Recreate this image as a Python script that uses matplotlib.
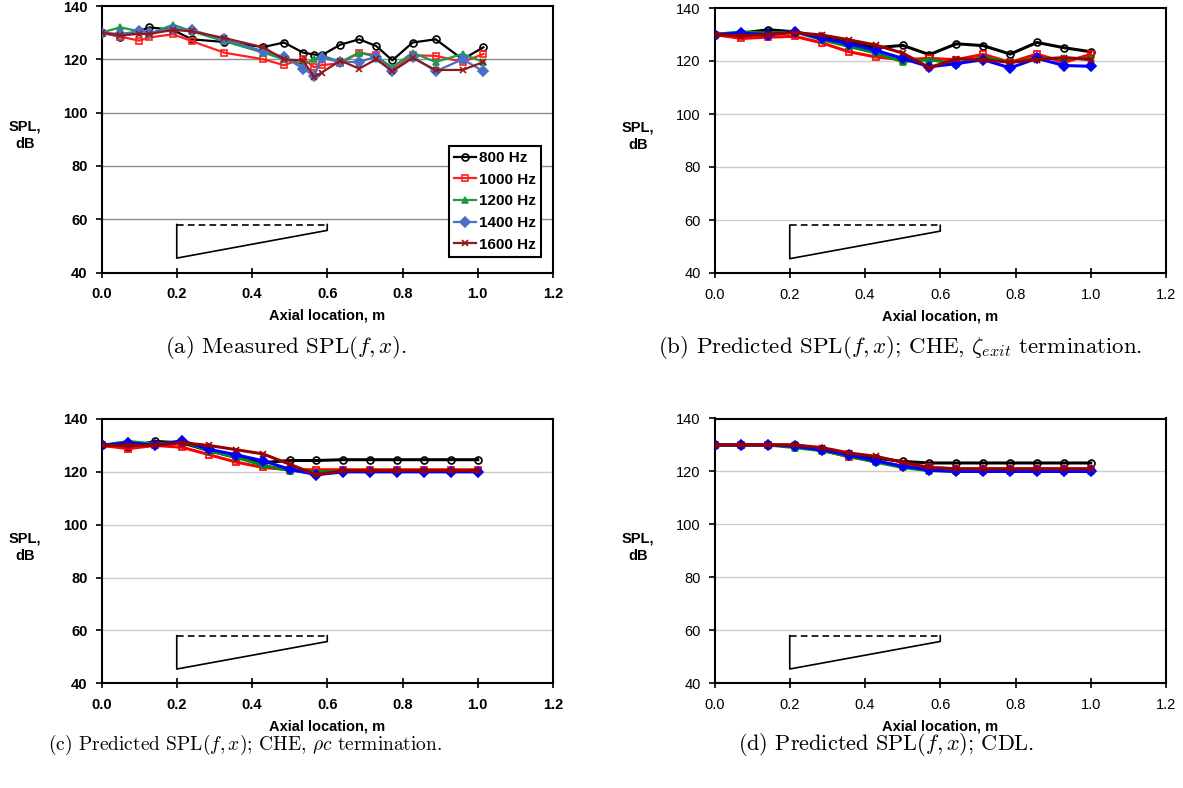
import matplotlib.pyplot as plt

plt.rcParams['font.family'] = ['Liberation Sans', 'DejaVu Sans']
plt.rcParams['mathtext.fontset'] = 'cm'

freq_labels = ['800 Hz', '1000 Hz', '1200 Hz', '1400 Hz', '1600 Hz']

# measured microphone positions along the duct, m
x_meas = [0.0, 0.05, 0.10, 0.127, 0.19, 0.24, 0.326, 0.43, 0.485, 0.536,
          0.565, 0.585, 0.635, 0.685, 0.73, 0.773, 0.827, 0.888, 0.96, 1.015]
meas_800 = [130, 128.5, 130.5, 132, 131, 127.5, 126.5, 124.6, 126.3, 122.5,
            121.8, 121.5, 125.5, 127.5, 125, 119.6, 126.3, 127.5, 120, 124.5]
meas_1000 = [130, 128.5, 127, 128.2, 129.4, 126.8, 122.5, 120, 117.8, 120.3,
             117, 117.8, 118.5, 122.5, 121.5, 116, 121.5, 121.3, 119, 122]
meas_1200 = [130, 132, 130.5, 129.5, 133, 130.5, 126.8, 122.5, 120, 118,
             120, 121.5, 119, 122.5, 121, 117, 122.5, 119, 122, 119]
meas_1400 = [130, 129.5, 130.5, 130, 131.5, 131, 127.5, 123, 121, 116.5,
             113.8, 120.5, 119, 119, 121, 115.5, 121, 115.5, 120, 115.5]
meas_1600 = [130, 129, 129.5, 129.5, 131, 130.5, 128, 124.5, 120, 119.5,
             113.5, 115, 119.5, 116.5, 120, 115.5, 120.5, 116, 116, 119]

# prediction nodes, m
x_pred = [0.0, 0.071, 0.143, 0.214, 0.286, 0.357, 0.429, 0.5,
          0.571, 0.643, 0.714, 0.786, 0.857, 0.929, 1.0]

# CHE, zeta_exit termination
che_zeta_800 = [130, 130.5, 131.8, 131, 129, 127, 125, 125.9, 122.4, 126.5, 125.8, 122.6, 127, 125, 123.5]
che_zeta_1000 = [130, 128.5, 129, 129.3, 126.8, 123.5, 121.5, 120.5, 121, 120.5, 122.5, 119.5, 122.6, 119.5, 122.5]
che_zeta_1200 = [130, 131, 130.5, 131, 128, 125.5, 123, 119.8, 120.5, 119, 121.5, 119.5, 121, 121, 121]
che_zeta_1400 = [130, 130.5, 130, 131, 128.5, 126.5, 124, 121, 117.8, 119, 120.5, 117.4, 121, 118.3, 118]
che_zeta_1600 = [130, 129.5, 130, 130.7, 129.8, 128, 126, 123, 117.5, 120.8, 120.5, 119.5, 120.5, 121.3, 120.5]

# CHE, rho*c termination
che_rhoc_800 = [130, 129.5, 131.5, 131, 128, 125.5, 123.5, 124.3, 124.3, 124.6, 124.6, 124.6, 124.6, 124.6, 124.6]
che_rhoc_1000 = [130, 128.8, 130, 129.3, 126.5, 123.7, 121.7, 120.8, 120.8, 120.8, 120.8, 120.8, 120.8, 120.8, 120.8]
che_rhoc_1200 = [130, 131.5, 130.5, 131.5, 128, 125.5, 122.5, 120.5, 120, 120.3, 120.3, 120.3, 120.3, 120.3, 120.3]
che_rhoc_1400 = [130, 131, 130, 131.8, 128.5, 126.5, 124.2, 121, 118.9, 120, 120, 120, 120, 120, 120]
che_rhoc_1600 = [130, 130, 130, 131, 130, 128.4, 126.8, 122.9, 118.9, 120.5, 120.5, 120.5, 120.5, 120.5, 120.5]

# CDL
cdl_800 = [130, 130, 130, 130, 128.5, 126.5, 125, 123.8, 123.2, 123.2, 123.2, 123.2, 123.2, 123.2, 123.2]
cdl_1000 = [130, 130, 130, 129.8, 128, 125.5, 123.8, 122, 121.5, 121, 121, 121, 121, 121, 121]
cdl_1200 = [130, 130, 130, 129, 127.8, 125.8, 123.5, 121.5, 120.3, 120, 120, 120, 120, 120, 120]
cdl_1400 = [130, 130, 130, 129.5, 128.2, 126.2, 124, 122, 120.5, 120, 120, 120, 120, 120, 120]
cdl_1600 = [130, 130, 130, 130, 129, 127, 125.7, 123.5, 121.5, 121, 121, 121, 121, 121, 121]

# duct outline sketch (x in m, y in plot units)
duct_x = [0.2, 0.2, 0.6, 0.6]
duct_y = [58, 45.4, 55.8, 58]

markers = ['o', 's', '^', 'D', 'x']
colors_meas = ['black', '#ff2020', '#1f9a45', '#4a6fc8', '#8e1a1a']
colors_pred = ['black', '#ff0000', '#008a20', '#0000ff', '#990000']

captions = [r'(a) Measured SPL$(f, x)$.',
            r'(b) Predicted SPL$(f, x)$; CHE, $\zeta_{exit}$ termination.',
            r'(c) Predicted SPL$(f, x)$; CHE, $\rho c$ termination.',
            r'(d) Predicted SPL$(f, x)$; CDL.']

W, H = 1183, 788
fig = plt.figure(figsize=(W / 100, H / 100), dpi=100)


def make_axes(left, top, right, bottom):
    return fig.add_axes([left / W, 1 - bottom / H, (right - left) / W, (bottom - top) / H])


def draw_panel(ax, x, series, colors, lw, grid_color, bold_ticks):
    for y, c, m, lab in zip(series, colors, markers, freq_labels):
        face = c if m in ('^', 'D') else 'none'
        ax.plot(x, y, color=c, lw=lw, marker=m, ms=5, mfc=face, mec=c,
                mew=1.2, label=lab, zorder=3)
    ax.plot(duct_x, duct_y, color='black', lw=1.2)
    ax.plot([duct_x[0], duct_x[-1]], [duct_y[0], duct_y[-1]],
            color='black', lw=1.2, ls=(0, (4, 2.5)))
    ax.set_xlim(0, 1.2)
    ax.set_ylim(40, 140)
    ax.set_xticks([0.0, 0.2, 0.4, 0.6, 0.8, 1.0, 1.2])
    ax.set_xticklabels(['0.0', '0.2', '0.4', '0.6', '0.8', '1.0', '1.2'])
    ax.set_yticks([40, 60, 80, 100, 120, 140])
    for v in [60, 80, 100, 120]:
        ax.axhline(v, color=grid_color, lw=1.0, zorder=1)
    for s in ax.spines.values():
        s.set_linewidth(1.5)
    weight = 'bold' if bold_ticks else 'normal'
    ax.tick_params(axis='y', direction='out', length=4, width=1.2, pad=6,
                   labelsize=10.5)
    ax.tick_params(axis='x', direction='inout', length=7, width=1.2, pad=7,
                   labelsize=10.5)
    for t in ax.get_xticklabels() + ax.get_yticklabels():
        t.set_fontweight(weight)
    ax.text(-0.17, 0.515, 'SPL,\ndB', transform=ax.transAxes, ha='center',
            va='center', multialignment='center', fontsize=10.5,
            fontweight='bold', linespacing=1.3)
    ax.text(0.5, -0.163, 'Axial location, m', transform=ax.transAxes,
            ha='center', va='center', fontsize=10.5, fontweight='bold')


ax_a = make_axes(101.5, 6, 553, 272.5)
ax_b = make_axes(714.5, 8, 1166, 273)
ax_c = make_axes(101.5, 419, 553, 683.3)
ax_d = make_axes(714.5, 418.5, 1166, 683.3)

draw_panel(ax_a, x_meas, [meas_800, meas_1000, meas_1200, meas_1400, meas_1600],
           colors_meas, 1.6, '#8c8c8c', True)
draw_panel(ax_b, x_pred, [che_zeta_800, che_zeta_1000, che_zeta_1200, che_zeta_1400, che_zeta_1600],
           colors_pred, 2.2, '#cccccc', False)
draw_panel(ax_c, x_pred, [che_rhoc_800, che_rhoc_1000, che_rhoc_1200, che_rhoc_1400, che_rhoc_1600],
           colors_pred, 2.2, '#cccccc', True)
draw_panel(ax_d, x_pred, [cdl_800, cdl_1000, cdl_1200, cdl_1400, cdl_1600],
           colors_pred, 2.2, '#cccccc', False)

leg = ax_a.legend(loc='lower right', bbox_to_anchor=(0.99, 0.03), fancybox=False,
                  framealpha=1, edgecolor='black', handlelength=1.4,
                  handletextpad=0.2, borderpad=0.35, labelspacing=0.5,
                  prop={'weight': 'bold', 'size': 11})
leg.get_frame().set_linewidth(1.5)

# caption anchors: (x, y, horizontal alignment, size)
cap_pos = [(286, 347, 'center', 16.5), (900, 347, 'center', 16.5),
           (48, 745, 'left', 14), (886, 745, 'center', 16)]
for (cx, cy, align, size), cap in zip(cap_pos, captions):
    fig.text(cx / W, 1 - cy / H, cap, ha=align, va='center',
             family='cmr10', fontsize=size)

fig.savefig('out.png', dpi=100)
